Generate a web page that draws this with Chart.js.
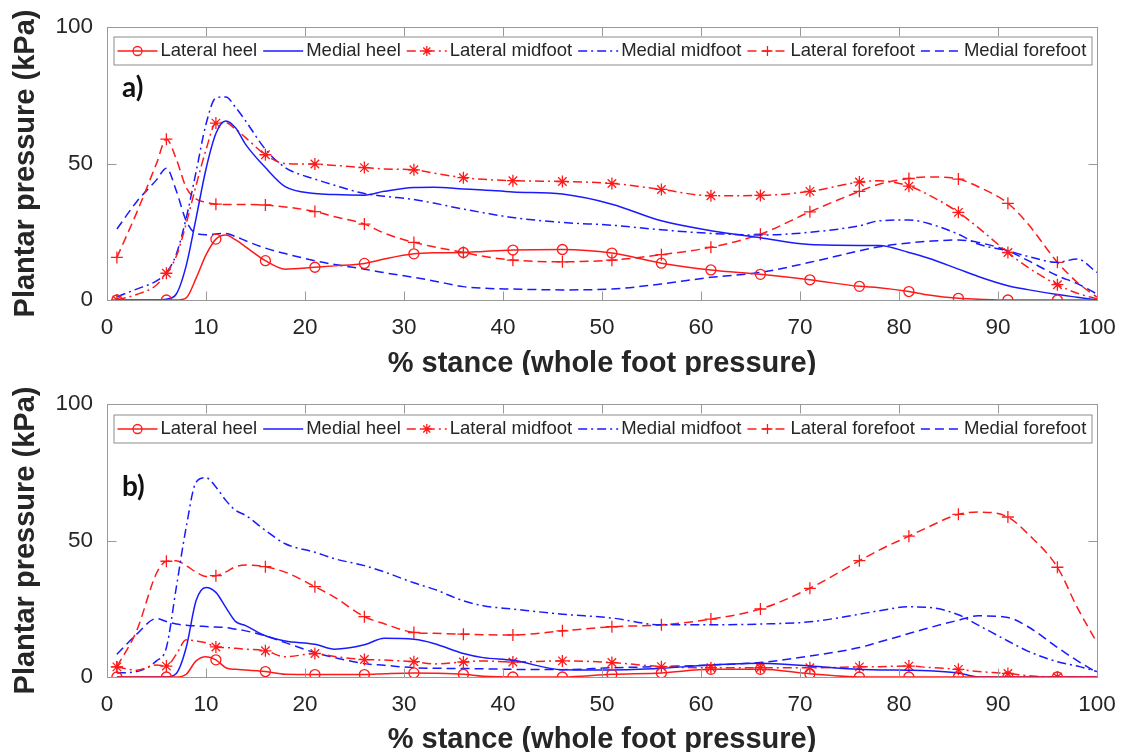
<!DOCTYPE html>
<html><head><meta charset="utf-8">
<script src="https://cdn.jsdelivr.net/npm/chart.js@4.4.1/dist/chart.umd.min.js"></script>
<style>
html,body{margin:0;padding:0;background:#fff;}
#wrap{position:relative;width:1121px;height:752px;overflow:hidden;background:#fff;}
.pane{position:absolute;left:0;width:1121px;overflow:hidden;}
#p1{top:0;height:375px;}
#p2{top:376px;height:376px;}
canvas{display:block;}
</style></head><body>
<div id="wrap">
<div class="pane" id="p1"><canvas id="c1" width="1121" height="376"></canvas></div>
<div class="pane" id="p2"><canvas id="c2" width="1121" height="376"></canvas></div>
</div>
<script>
// ---- data ----
const stance = [1,3,5,6,7,8,9,10,11,12,13,14,16,18,21,23,26,28,31,33,36,38,41,46,51,56,61,66,71,76,78,81,83,86,88,91,93,96,98,100];
const seriesNames = ['Lateral heel','Medial heel','Lateral midfoot','Medial midfoot','Lateral forefoot','Medial forefoot'];
const xTicks = [0,10,20,30,40,50,60,70,80,90,100];
const yTicks = [0,50,100];

// panel a)
const aLatHeel = [0,0,0,0,0,0.8,8,16.5,22.3,23.8, 22,19.5,14.4,11.3,12,12.5,13.4,15,16.9,17.3, 17.4,17.8,18.3,18.5,17.2,13.5,11,9.4,7.4,5, 4.5,3.1,1.8,0.6,0.3,0,0,0,0,0];
const aMedHeel = [0,0,0,0.3,2.2,12.6,30,48,61,65.6, 63,57,48.5,41.5,39,38.6,38.4,39.8,41.2,41.3, 40.7,40.3,39.6,38.8,35.1,29,25.4,22.8,20.3,20, 20,17.4,15.3,11.3,8.6,5.2,3.8,2,1,0];
const aLatMid = [0,2,5.5,9.8,16,28,42,55,64.8,65, 62.5,59.5,53.2,50,49.8,49.3,48.5,48,47.7,46.5, 44.8,44.2,43.7,43.4,42.7,40.5,38.2,38.3,39.8,43.2, 43.7,41.7,38.5,32.1,26.5,17.4,12,5.6,2.5,0.4];
const aMedMid = [1.2,4,7,10,16.8,30,47,64.4,74,74.4, 70.5,65.6,55.2,48.5,44.3,42,39,38,36.8,35.5, 33.3,32,30.2,28.4,27.4,25.7,24.4,23.8,24.8,27.2, 29,29.3,28,24.1,20.5,18,16,13.8,15,10.1];
const aLatFore = [15.6,32,50,58.9,51.6,41.2,37,35.8,35.1,35, 35,35,34.8,34.1,32.4,30.5,27.8,24.5,21.1,19.5, 17.4,16,14.6,14,14.6,16.6,19.3,24.1,32.3,39.8, 42.4,44.5,45.1,44.3,41.5,35.4,28,13.8,6.5,1];
const aMedFore = [26,36,44,48.3,40,29,24.4,23.9,24.2,24.4, 23.2,21.7,19,17,14.4,13,11.3,10,8.3,7, 4.9,4.3,4,3.7,4,5.9,8.3,10.1,13.8,18, 19.5,20.9,21.5,22,21.1,18,14.5,8.9,6,2.2];

// panel b)
const bLatHeel = [0,0,0,0,0,1,5.9,7.4,6.3,3.4, 2.8,2.6,2,1,0.9,0.9,0.9,1.2,1.5,1.4, 1,0.3,0,0,1,1.5,2.8,2.8,1.2,0, 0,0,0,0,0,0,0,0,0,0];
const bMedHeel = [0,0,0,0,1.3,10.8,28,32.8,31,25.5, 20.3,18.8,15.1,13.2,12,10.2,11.8,14.2,13.8,12.3, 8.6,7.1,6.1,2.7,2.6,3.2,4.4,5,4,2.8, 2.6,2.5,2.3,1.5,0,0,0,0,0,0];
const bLatMid = [3.7,2.5,4.4,4,8.3,13.6,13.2,12.5,11,10.8, 10.5,10.2,9.6,7.4,8.6,7.5,6.4,6.2,5.6,4.8, 5.5,5.9,5.5,5.9,5.3,3.8,3.4,3.4,3.4,3.7, 3.8,4,3.5,2.8,2,1.3,0.5,0,0,0];
const bMedMid = [1.5,2,5.9,10.8,32.8,54.9,71.4,73,69.6,64.7, 61,59.2,53.7,48.8,45.7,43.3,40.8,38.5,34.5,32.2, 27.9,26.1,24.9,23,21.6,19.1,19.1,19.4,20.2,23, 24.3,25.7,25.5,22.8,19,13.2,9.5,5.6,4,2];
const bLatFore = [3.7,17,38,42.4,42.6,40.8,38.4,36.8,37.1,38.5, 40.4,41,40.4,38.4,33.1,29.2,22.1,19.5,16.3,16, 15.7,15.5,15.4,16.9,18.4,19.1,21.2,24.9,32.5,42.6, 46.5,51.6,55,59.6,60.4,58.6,52.5,40.2,25.5,12.6];
const bMedFore = [8.3,15.7,21.4,20.3,19.4,19,18.7,18.5,18.3,18.1, 17.5,16.9,15.1,12.6,8.9,7.1,4.9,4.3,3.4,3.2, 3.1,3,2.8,2.7,3.4,3.8,4.4,5.3,7.7,10.8, 12.8,15.9,18,20.8,22.4,21.8,18.5,10.8,6,1.6];

// ---- styles ----
const RED = '#ff1a1a', BLUE = '#1a1aff';
const colors = [RED, BLUE, RED, BLUE, RED, BLUE];
const DASH = [9,5], DASHDOT = [9,4,2,4];
const dashes = [[], [], DASHDOT, DASHDOT, DASH, DASH];
const markers = ['circle', null, 'star', null, 'cross', null];
const FONT = "'Liberation Sans', Arial, Helvetica, sans-serif";
const TXT = '#262626';
const AX = '#999999';

function isMarker(x){ return (x - 1) % 5 === 0 && x < 100; }

function drawMarker(ctx, style, x, y, r){
  ctx.beginPath();
  if (style === 'circle') { ctx.arc(x, y, r, 0, Math.PI*2); }
  else if (style === 'cross') { ctx.moveTo(x-r,y); ctx.lineTo(x+r,y); ctx.moveTo(x,y-r); ctx.lineTo(x,y+r); }
  else if (style === 'star') {
    ctx.moveTo(x-r,y); ctx.lineTo(x+r,y); ctx.moveTo(x,y-r); ctx.lineTo(x,y+r);
    const d = r*0.7071; ctx.moveTo(x-d,y-d); ctx.lineTo(x+d,y+d); ctx.moveTo(x-d,y+d); ctx.lineTo(x+d,y-d);
  }
  ctx.stroke();
}

const framePlugin = {
  id: 'frame',
  afterDatasetsDraw(chart, args, opts) {
    const {ctx, chartArea: a, scales: {x, y}} = chart;
    ctx.save();
    ctx.setLineDash([]);
    ctx.strokeStyle = AX; ctx.lineWidth = 1;
    const L = Math.round(a.left)+0.5, R = Math.round(a.right)+0.5, T = Math.round(a.top)+0.5, B = Math.round(a.bottom)+0.5;
    ctx.strokeRect(L, T, R-L, B-T);
    ctx.beginPath();
    xTicks.forEach(v => {
      const px = Math.round(x.getPixelForValue(v))+0.5;
      ctx.moveTo(px, B); ctx.lineTo(px, B-9);
      ctx.moveTo(px, T); ctx.lineTo(px, T+9);
    });
    yTicks.forEach(v => {
      const py = Math.round(y.getPixelForValue(v))+0.5;
      ctx.moveTo(L, py); ctx.lineTo(L+9, py);
      ctx.moveTo(R, py); ctx.lineTo(R-9, py);
    });
    ctx.stroke();

    // legend box
    const lx = L + 6, ly = T + opts.legendDy, lw = 978, lh = 28;
    ctx.fillStyle = '#fff';
    ctx.fillRect(lx, ly, lw, lh);
    ctx.strokeStyle = '#8c8c8c';
    ctx.strokeRect(lx+0.5, ly+0.5, lw, lh);
    ctx.font = '18.5px ' + FONT;
    ctx.textBaseline = 'middle';
    ctx.textAlign = 'left';
    let cx = lx + 4;
    const cy = ly + lh/2 + 0.5;
    chart.data.datasets.forEach((ds, i) => {
      ctx.strokeStyle = colors[i]; ctx.lineWidth = 1.5;
      ctx.setLineDash(dashes[i]);
      ctx.beginPath(); ctx.moveTo(cx, cy); ctx.lineTo(cx + 40, cy); ctx.stroke();
      ctx.setLineDash([]);
      if (markers[i]) { ctx.lineWidth = 1.3; drawMarker(ctx, markers[i], cx + 20, cy, markers[i]==='circle'?4.5:5); }
      ctx.fillStyle = TXT;
      ctx.fillText(ds.label, cx + 43, cy);
      cx = cx + 43 + ctx.measureText(ds.label).width + 6;
    });

    // panel label
    ctx.font = "bold 28px Lato, 'Open Sans', sans-serif";
    ctx.fillStyle = '#111';
    ctx.textBaseline = 'alphabetic';
    ctx.fillText(opts.label, opts.labelX, opts.labelY);
    ctx.restore();
  }
};

function build(id, vals, label, labelY, plotTop, plotBottom, legendDy) {
  const datasets = seriesNames.map((name, i) => ({
    label: name,
    data: stance.map((s, j) => ({x: s, y: vals[i][j]})),
    borderColor: colors[i],
    backgroundColor: 'rgba(0,0,0,0)',
    borderWidth: 1.5,
    borderDash: dashes[i],
    cubicInterpolationMode: 'monotone',
    fill: false,
    pointStyle: markers[i] || 'circle',
    pointRadius: ctx => (markers[i] && isMarker(stance[ctx.dataIndex])) ? (markers[i]==='circle'?5:6) : 0,
    pointHoverRadius: 0,
    pointBorderColor: colors[i],
    pointBackgroundColor: 'rgba(0,0,0,0)',
    pointBorderWidth: 1.3
  }));
  return new Chart(document.getElementById(id), {
    type: 'line',
    data: { datasets },
    plugins: [framePlugin],
    options: {
      responsive: false,
      animation: false,
      events: [],
      layout: { padding: { top: plotTop, right: 24, left: 0, bottom: 0 } },
      plugins: {
        legend: { display: false },
        tooltip: { enabled: false },
        frame: { label: label, labelX: 122, labelY: labelY, legendDy: legendDy }
      },
      scales: {
        x: {
          type: 'linear', min: 0, max: 100,
          afterBuildTicks: s => { s.ticks = xTicks.map(v => ({value: v})); },
          ticks: { font: { family: FONT, size: 22.5 }, color: TXT, padding: 14, maxRotation: 0, autoSkip: false },
          grid: { display: false, drawTicks: false },
          border: { display: false },
          title: { display: true, text: '% stance (whole foot pressure)', color: TXT,
                   font: { family: FONT, size: 29, weight: 'bold', lineHeight: 1 }, padding: { top: 0, bottom: -2 } },
          afterFit: s => { s.height = 376 - plotBottom; s.paddingLeft = 0; s.paddingRight = 0; }
        },
        y: {
          type: 'linear', min: 0, max: 100,
          afterBuildTicks: s => { s.ticks = yTicks.map(v => ({value: v})); },
          ticks: { font: { family: FONT, size: 22.5 }, color: TXT, padding: 14 },
          grid: { display: false, drawTicks: false },
          border: { display: false },
          title: { display: true, text: 'Plantar pressure (kPa)', color: TXT,
                   font: { family: FONT, size: 29, weight: 'bold', lineHeight: 1.2 }, padding: { top: 9, bottom: 0 } },
          afterFit: s => { s.width = 107; s.paddingTop = 0; s.paddingBottom = 0; }
        }
      }
    }
  });
}

build('c1', [aLatHeel, aMedHeel, aLatMid, aMedMid, aLatFore, aMedFore], 'a)', 97, 27, 300, 9);
build('c2', [bLatHeel, bMedHeel, bLatMid, bMedMid, bLatFore, bMedFore], 'b)', 120, 28, 301, 10);
</script>
</body></html>
